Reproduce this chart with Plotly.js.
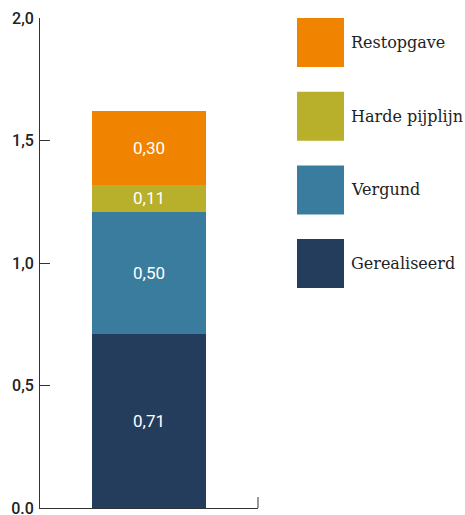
<!DOCTYPE html>
<html>
<head>
<meta charset="utf-8">
<script src="https://cdn.plot.ly/plotly-3.0.1.min.js"></script>
<style>html,body{margin:0;padding:0;background:#fff;}#chart{width:465px;height:515px;}</style>
</head>
<body>
<div id="chart"></div>
<script>
// Data
const categories = ["Totaal"];
const seriesNames = ["Gerealiseerd", "Vergund", "Harde pijplijn", "Restopgave"];
const seriesValues = [[0.71], [0.50], [0.11], [0.30]];
const seriesColors = ["#243d5c", "#3a7c9e", "#b8b02a", "#f08400"];
const yTickVals = [0, 0.5, 1.0, 1.5, 2.0];
const yTickText = ["0.0", "0,5", "1,0", "1,5", "2,0"];

const traces = seriesNames.map((name, i) => ({
  type: "bar",
  name: name,
  x: categories,
  y: seriesValues[i],
  marker: {color: seriesColors[i], line: {width: 0}},
  width: 0.525,
  texttemplate: "%{y:.2f}",
  textposition: "inside",
  insidetextanchor: "middle",
  textfont: {family: "Roboto", size: 17, color: "#ffffff"},
  hoverinfo: "skip",
  showlegend: false
}));

// Custom legend (large swatches), top to bottom reversed order
const shapes = [];
const annotations = [];
const legendOrder = [3, 2, 1, 0];
const plotW = 465 - 40 - 207;
const plotH = 490;
legendOrder.forEach((si, k) => {
  const top = 18 + k * 73.7;
  const x0 = (297 - 40) / plotW, x1 = (344 - 40) / plotW;
  const y1 = (508 - top) / plotH, y0 = (508 - top - 49) / plotH;
  shapes.push({type: "rect", xref: "paper", yref: "paper", x0: x0, x1: x1, y0: y0, y1: y1,
    fillcolor: seriesColors[si], line: {width: 0}});
  annotations.push({xref: "paper", yref: "paper", x: (349 - 40) / plotW, y: (y0 + y1) / 2,
    xanchor: "left", yanchor: "middle", showarrow: false, text: seriesNames[si],
    font: {family: "DejaVu Serif", size: 16, color: "#222"}});
});
// right-end x-axis tick
shapes.push({type: "line", xref: "paper", yref: "paper", x0: 1, x1: 1, y0: 0, y1: 11 / plotH,
  line: {color: "#333", width: 1}});

const layout = {
  width: 465, height: 515,
  margin: {l: 40, r: 207, t: 18, b: 7, pad: 0},
  paper_bgcolor: "#fff", plot_bgcolor: "#fff",
  barmode: "stack",
  separators: ", ",
  showlegend: false,
  xaxis: {type: "category", range: [-0.5, 0.5], showticklabels: false, ticks: "",
    showgrid: false, zeroline: false, showline: true, linecolor: "#333", linewidth: 1, fixedrange: true},
  yaxis: {range: [0, 2], tickmode: "array", tickvals: yTickVals, ticktext: yTickText,
    ticks: "inside", ticklen: 10, tickcolor: "#333", tickwidth: 1,
    showgrid: false, zeroline: false, showline: true, linecolor: "#333", linewidth: 1,
    ticklabelstandoff: 2, automargin: false, ticklabeloverflow: "allow",
    tickfont: {family: "Roboto", size: 16, color: "#222", weight: 500}, fixedrange: true},
  shapes: shapes,
  annotations: annotations
};

Plotly.newPlot("chart", traces, layout, {displayModeBar: false, staticPlot: true});
</script>
</body>
</html>
